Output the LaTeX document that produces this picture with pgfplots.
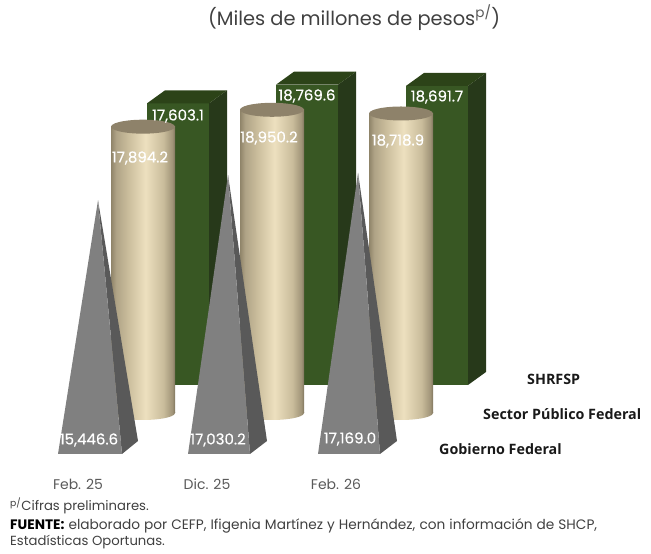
\documentclass[border=0pt]{standalone}
\usepackage{fontspec}
\usepackage{pgfplots}
\usepackage{pgfplotstable}
\pgfplotsset{compat=1.18}
\setmainfont{Poppins}
\newfontfamily\legfont{Open Sans}
\newfontfamily\labfont[FakeBold=0.4]{Poppins}
\definecolor{gfront}{HTML}{385723}
\definecolor{gside}{HTML}{27391A}
\definecolor{gtop}{HTML}{2C4318}
\definecolor{pfront}{HTML}{808080}
\definecolor{pside}{HTML}{595959}
\definecolor{txt}{HTML}{404040}
\definecolor{tick}{HTML}{595959}
\definecolor{c0}{HTML}{8F8469}
\definecolor{c1}{HTML}{AFA386}
\definecolor{c2}{HTML}{C9BC9B}
\definecolor{c3}{HTML}{EDE0BF}
\definecolor{c4}{HTML}{A09478}
\definecolor{c5}{HTML}{7F755E}
\definecolor{capc}{HTML}{8E826A}
\pgfdeclarehorizontalshading{cylbody}{100bp}{
 color(0bp)=(c0); color(25bp)=(c0); color(29bp)=(c1); color(38bp)=(c2);
 color(52bp)=(c3); color(66bp)=(c2); color(73bp)=(c4); color(75bp)=(c5); color(100bp)=(c5)}
% unit ellipses for the cylinders (x offset, y offset)
\pgfplotstableread{
x y
-32 60
-32 0
-31 -108.5
-28 -212
-24 -289
-20 -341.5
-15 -386
-10 -415.6
-5 -432
0 -437.5
5 -432
10 -415.6
15 -386
20 -341.5
24 -289
28 -212
31 -108.5
32 0
32 60
}\lowerarc
\pgfplotstableread{
x y
-32 0
-31 108.5
-28 212
-24 289
-20 341.5
-15 386
-10 415.6
-5 432
0 437.5
5 432
10 415.6
15 386
20 341.5
24 289
28 212
31 108.5
32 0
31 -108.5
28 -212
24 -289
20 -341.5
15 -386
10 -415.6
5 -432
0 -437.5
-5 -432
-10 -415.6
-15 -386
-20 -341.5
-24 -289
-28 -212
-31 -108.5
}\capring
\newcommand{\lab}[3]{\node[text=white,font=\labfont\fontsize{15}{15}\selectfont,inner sep=0pt] at (#1pt,{(554-#2-2)*1pt}) {#3};}
\newcommand{\leg}[3]{\node[text=black!90,font=\legfont\bfseries\fontsize{14.3}{14.3}\selectfont,anchor=west,inner sep=0pt] at (#1pt,{(554-#2)*1pt}) {#3};}
\begin{document}
\begin{tikzpicture}
\path[use as bounding box] (0,0) rectangle (651pt,554pt);
\begin{axis}[
 at={(0pt,84pt)}, anchor=south west,
 scale only axis, width=651pt, height=470pt,
 xmin=0, xmax=651, ymin=-5312.5, ymax=24062.5,
 axis x line=bottom, axis y line=left,
 axis line style={draw=none,-},
 tick style={draw=none},
 ytick=\empty,
 xtick={78,207,336},
 xticklabels={Feb. 25,Dic. 25,Feb. 26},
 xticklabel style={text=tick,font=\fontsize{14}{14}\selectfont,yshift=-3pt},
 clip=false,
 title={\textcolor{txt}{(Miles de millones de pesos\textsuperscript{\textcolor{tick}{p/}})}},
 title style={at={(0.544,0.95)},anchor=center,font=\fontsize{19.4}{19.4}\selectfont,inner sep=0pt},
]
% --- SHRFSP: prisms
\addplot[draw=none,fill=gfront] coordinates {(147,0)(209,0)(209,17603.1)(147,17603.1)} -- cycle;
\addplot[draw=none,fill=gside] coordinates {(209,0)(227,812.5)(227,18415.6)(209,17603.1)} -- cycle;
\addplot[draw=none,fill=gtop] coordinates {(147,17603.1)(165,18415.6)(227,18415.6)(209,17603.1)} -- cycle;
\addplot[draw=none,fill=gfront] coordinates {(276,0)(338,0)(338,18769.6)(276,18769.6)} -- cycle;
\addplot[draw=none,fill=gside] coordinates {(338,0)(356,812.5)(356,19582.1)(338,18769.6)} -- cycle;
\addplot[draw=none,fill=gtop] coordinates {(276,18769.6)(294,19582.1)(356,19582.1)(338,18769.6)} -- cycle;
\addplot[draw=none,fill=gfront] coordinates {(406,0)(468,0)(468,18691.7)(406,18691.7)} -- cycle;
\addplot[draw=none,fill=gside] coordinates {(468,0)(486,812.5)(486,19504.2)(468,18691.7)} -- cycle;
\addplot[draw=none,fill=gtop] coordinates {(406,18691.7)(424,19504.2)(486,19504.2)(468,18691.7)} -- cycle;
% --- Sector Publico Federal: cylinders (base set 1750 lower)
\pgfplotsset{cyl/.style={draw=none,shading=cylbody,y filter/.expression={y-1750}}}
\addplot[cyl,x filter/.expression={x+143}] table {\lowerarc} -- cycle;
\addplot[cyl] coordinates {(111,0)(175,0)(175,17894.2)(111,17894.2)} -- cycle;
\addplot[draw=none,fill=capc,x filter/.expression={x+143},y filter/.expression={y+17894.2-1750}] table {\capring} -- cycle;
\addplot[cyl,x filter/.expression={x+272}] table {\lowerarc} -- cycle;
\addplot[cyl] coordinates {(240,0)(304,0)(304,18950.2)(240,18950.2)} -- cycle;
\addplot[draw=none,fill=capc,x filter/.expression={x+272},y filter/.expression={y+18950.2-1750}] table {\capring} -- cycle;
\addplot[cyl,x filter/.expression={x+401}] table {\lowerarc} -- cycle;
\addplot[cyl] coordinates {(369,0)(433,0)(433,18718.9)(369,18718.9)} -- cycle;
\addplot[draw=none,fill=capc,x filter/.expression={x+401},y filter/.expression={y+18718.9-1750}] table {\capring} -- cycle;
% --- Gobierno Federal: pyramids (base centre set 3906.25 lower)
\pgfplotsset{pyr/.style={draw=none,y filter/.expression={y-3906.25}}}
\addplot[pyr,fill=pside] coordinates {(122,-406.25)(138,406.25)(98,15446.6)} -- cycle;
\addplot[pyr,fill=pfront] coordinates {(58,-406.25)(122,-406.25)(98,15446.6)} -- cycle;
\addplot[pyr,fill=pside] coordinates {(250,-406.25)(267,406.25)(228,17030.2)} -- cycle;
\addplot[pyr,fill=pfront] coordinates {(188,-406.25)(250,-406.25)(228,17030.2)} -- cycle;
\addplot[pyr,fill=pside] coordinates {(380,-406.25)(397,406.25)(358,17169.0)} -- cycle;
\addplot[pyr,fill=pfront] coordinates {(318,-406.25)(380,-406.25)(358,17169.0)} -- cycle;
\end{axis}
\lab{178}{114}{17,603.1}
\lab{307}{94}{18,769.6}
\lab{437}{95}{18,691.7}
\lab{140}{156}{17,894.2}
\lab{269}{136}{18,950.2}
\lab{398}{139}{18,718.9}
\lab{89}{438}{15,446.6}
\lab{218}{438}{17,030.2}
\lab{350}{437}{17,169.0}
\leg{527}{379}{SHRFSP}
\leg{483}{414}{Sector Público Federal}
\leg{439}{449}{Gobierno Federal}
\node[anchor=west,inner sep=0pt,text=txt,font=\fontsize{13.2}{13.2}\selectfont] at (10pt,{(554-506)*1pt}) {\textsuperscript{p/}Cifras preliminares.};
\node[anchor=west,inner sep=0pt,text=txt,font=\fontsize{13.7}{13.7}\selectfont] at (10pt,{(554-526)*1pt}) {\makebox[587pt][s]{\textbf{\textcolor{black}{FUENTE:}} elaborado por CEFP, Ifigenia Martínez y Hernández, con información de SHCP,}};
\node[anchor=west,inner sep=0pt,text=txt,font=\fontsize{13.2}{13.2}\selectfont] at (10pt,{(554-542)*1pt}) {Estadísticas Oportunas.};
\end{tikzpicture}
\end{document}
